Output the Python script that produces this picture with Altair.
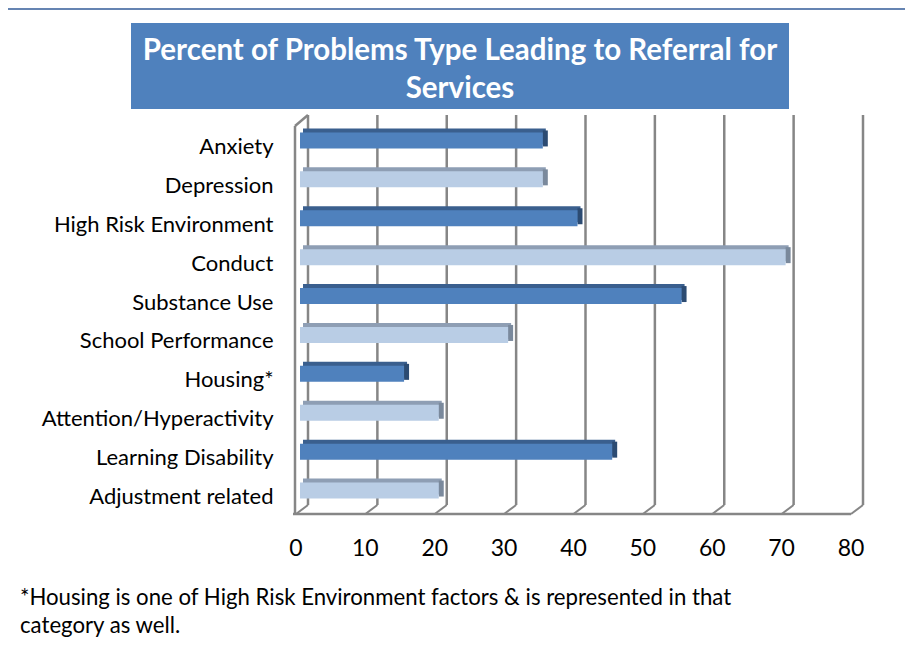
import altair as alt
import pandas as pd

categories = ["Anxiety", "Depression", "High Risk Environment", "Conduct", "Substance Use",
              "School Performance", "Housing*", "Attention/Hyperactivity",
              "Learning Disability", "Adjustment related"]
values = [35, 35, 40, 70, 55, 30, 15, 20, 45, 20]
ticks = [0, 10, 20, 30, 40, 50, 60, 70, 80]
title_lines = ["Percent of Problems Type Leading to Referral for", "Services"]
footnote_lines = ["*Housing is one of High Risk Environment factors & is represented in that",
                  "category as well."]

FONT = "Lato"
df = pd.DataFrame({"cat": categories, "val": values,
                   "shade": ["dark" if i % 2 == 0 else "light" for i in range(len(categories))]})
tdf = pd.DataFrame({"t": ticks})

W, H = 555, 389
xs = alt.Scale(domain=[0, 80], nice=False, zero=False)
ys = alt.Scale(domain=categories, paddingInner=0.589, paddingOuter=0.2945)
yaxis = alt.Axis(title=None, domain=False, ticks=False, grid=False, labelPadding=27,
                 labelFont=FONT, labelFontSize=22, labelColor="#000000",
                 labelOffset=6.5, labelLimit=300)

front_col = alt.Scale(domain=["dark", "light"], range=["#4F81BD", "#B9CDE5"])
top_col = alt.Scale(domain=["dark", "light"], range=["#3A5F8E", "#8E9EB4"])
side_col = alt.Scale(domain=["dark", "light"], range=["#2C4B72", "#7A899C"])

GRID = "#868686"

# back-wall gridlines
grid_back = alt.Chart(tdf).mark_rule(color=GRID, strokeWidth=2.5, xOffset=8).encode(
    x=alt.X("t:Q", scale=xs, axis=None),
    y=alt.value(-6), y2=alt.value(384))
# floor slanted lines
grid_floor = alt.Chart(tdf).mark_rule(color=GRID, strokeWidth=2, xOffset=8, x2Offset=-4).encode(
    x=alt.X("t:Q", scale=xs, axis=None), x2="t:Q",
    y=alt.value(384), y2=alt.value(393))
# floor front edge
floor_front = alt.Chart(tdf).mark_rule(color=GRID, strokeWidth=2.5, xOffset=-7, x2Offset=-4).encode(
    x=alt.X("min(t):Q", scale=xs, axis=None), x2="max(t):Q",
    y=alt.value(393))
# left wall
wall_v = alt.Chart(tdf).mark_rule(color=GRID, strokeWidth=2.5, xOffset=-5).encode(
    x=alt.X("min(t):Q", scale=xs, axis=None),
    y=alt.value(5), y2=alt.value(393))
wall_s = alt.Chart(tdf).mark_rule(color=GRID, strokeWidth=2.5, xOffset=-5, x2Offset=8).encode(
    x=alt.X("min(t):Q", scale=xs, axis=None), x2="min(t):Q",
    y=alt.value(5), y2=alt.value(-6))

# x tick labels (front)
xlabels = alt.Chart(tdf).mark_text(font=FONT, fontSize=23, color="#000000", dx=-4,
                                   baseline="middle").encode(
    x=alt.X("t:Q", scale=xs, axis=None), y=alt.value(428), text="t:Q")

# bar top faces
bar_top = alt.Chart(df).mark_bar(xOffset=3, x2Offset=3, yOffset=-4).encode(
    x=alt.X("val:Q", scale=xs, axis=None),
    y=alt.Y("cat:N", scale=ys, axis=yaxis),
    color=alt.Color("shade:N", scale=top_col, legend=None))
# bar side faces
bar_side = alt.Chart(df).mark_bar(x2Offset=5, yOffset=-2).encode(
    x=alt.X("val:Q", scale=xs, axis=None), x2="val:Q",
    y=alt.Y("cat:N", scale=ys, axis=yaxis),
    color=alt.Color("shade:N", scale=side_col, legend=None))
bar_front = alt.Chart(df).mark_bar().encode(
    x=alt.X("val:Q", scale=xs, axis=None),
    y=alt.Y("cat:N", scale=ys, axis=yaxis),
    color=alt.Color("shade:N", scale=front_col, legend=None))

# title box
tbox = alt.Chart(pd.DataFrame({"a": [0]})).mark_rect(color="#4F81BD").encode(
    x=alt.value(-169), x2=alt.value(489), y=alt.value(-98), y2=alt.value(-12))
ttext = alt.Chart(pd.DataFrame({"line": ["\n".join(title_lines)]})).mark_text(
    font=FONT, fontSize=29.5, fontWeight="bold", color="white", align="center",
    baseline="alphabetic", lineBreak="\n", lineHeight=38).encode(
    x=alt.value(160), y=alt.value(-61), text="line:N")

foot = alt.Chart(pd.DataFrame({"line": ["\n".join(footnote_lines)]})).mark_text(
    font=FONT, fontSize=22.2, color="#000000", align="left", baseline="alphabetic",
    lineBreak="\n", lineHeight=28).encode(
    x=alt.value(-280), y=alt.value(484), text="line:N")

border = alt.Chart(pd.DataFrame({"a": [0]})).mark_rule(color="#6584B2", strokeWidth=2).encode(
    x=alt.value(-292), x2=alt.value(605), y=alt.value(-112))

chart = alt.layer(border, tbox, ttext, grid_back, grid_floor, floor_front, wall_v, wall_s,
                  bar_top, bar_side, bar_front, xlabels, foot).resolve_scale(
    color="independent").properties(
    width=W, height=H,
    padding={"left": 292, "top": 113, "right": 50, "bottom": 131},
    autosize=alt.AutoSizeParams(type="none"),
).configure_view(stroke=None)

chart.save("out.html", embed_options={"renderer": "svg", "actions": False})
